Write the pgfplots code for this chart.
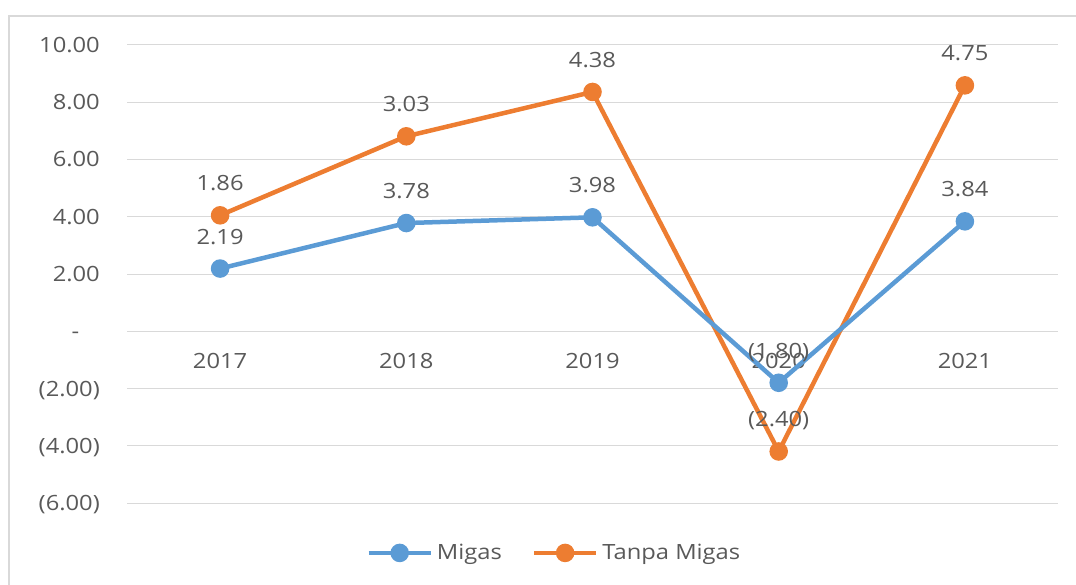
\documentclass[border=0pt]{standalone}
\usepackage{fontspec}
\setmainfont{Open Sans}[FakeStretch=1.13]
\usepackage{pgfplots}
\pgfplotsset{compat=1.18}
\definecolor{cblue}{HTML}{5B9BD5}
\definecolor{corange}{HTML}{ED7D31}
\definecolor{cgrid}{HTML}{D9D9D9}
\definecolor{ctext}{HTML}{595959}
\newcommand{\lblfont}{\fontsize{21}{24}\selectfont}
\begin{document}
\begin{tikzpicture}[x=1pt,y=1pt]
\useasboundingbox (0,0) rectangle (1076,-585);
\draw[cgrid, line width=2pt] (9,-585) -- (9,-16) -- (1076,-16);
\begin{axis}[
  at={(127pt,-503pt)}, anchor=south west,
  scale only axis, width=931pt, height=458pt,
  xmin=-0.5, xmax=4.5, ymin=-6, ymax=10,
  axis x line*=middle, axis y line*=left,
  x axis line style={draw=none}, y axis line style={draw=none},
  hide obscured x ticks=false, hide obscured y ticks=false,
  xtick={0,1,2,3,4}, xticklabels={2017,2018,2019,2020,2021},
  ytick={-6,-4,-2,0,2,4,6,8,10},
  yticklabels={{(6.00)},{(4.00)},{(2.00)},{-\hphantom{0)}},{2.00},{4.00},{6.00},{8.00},{10.00}},
  major tick length=0pt,
  ymajorgrids, grid style={cgrid, line width=1pt},
  tick label style={font=\lblfont, text=ctext, inner sep=0pt},
  yticklabel style={anchor=base east, xshift=-27pt, yshift=-7.5pt},
  xticklabel style={anchor=base, yshift=-37.5pt},
  stack plots=y,
  nodes near coords, point meta=explicit symbolic,
  every node near coord/.append style={font=\lblfont, text=ctext, anchor=base, inner sep=0pt, yshift=24.5pt},
  legend style={at={(0.459,-0.109)}, anchor=center, draw=none, fill=none, legend columns=-1,
    font=\lblfont, text=ctext, inner sep=0pt,
    /tikz/every odd column/.append style={column sep=2pt},
    /tikz/every even column/.append style={column sep=28pt}},
  legend image code/.code={\draw[mark repeat=2,mark phase=2,#1] plot coordinates {(0pt,0pt) (31pt,0pt) (62pt,0pt)};},
]
\addplot[cblue, line width=4.5pt, mark=*, mark size=7pt, mark options={solid, fill=cblue}]
  coordinates {(0,2.19)[2.19] (1,3.78)[3.78] (2,3.98)[3.98] (3,-1.80)[(1.80)] (4,3.84)[3.84]};
\addlegendentry{Migas}
\addplot[corange, line width=4.5pt, mark=*, mark size=7pt, mark options={solid, fill=corange}]
  coordinates {(0,1.86)[1.86] (1,3.03)[3.03] (2,4.38)[4.38] (3,-2.40)[(2.40)] (4,4.75)[4.75]};
\addlegendentry{Tanpa Migas}
\end{axis}
\end{tikzpicture}
\end{document}
